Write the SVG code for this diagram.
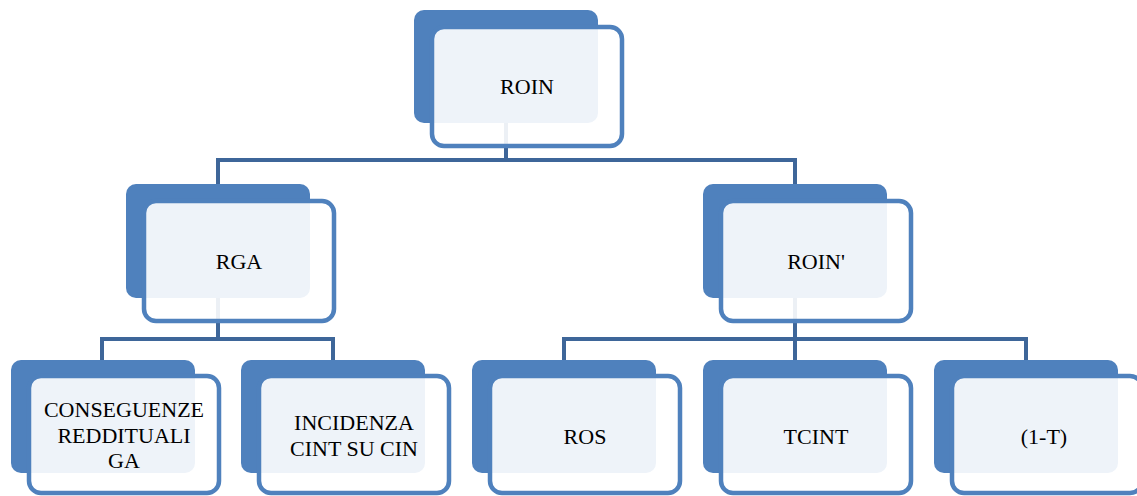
<svg xmlns="http://www.w3.org/2000/svg" width="1137" height="496" viewBox="0 0 1137 496">
<style>
.back{fill:#4F81BD}
.front{fill:#FFFFFF;fill-opacity:0.9;stroke:#4F81BD;stroke-width:4.5}
.conn{fill:none;stroke:#3E6699;stroke-width:4}
text{font-family:"Liberation Serif","Times New Roman",serif;font-size:22px;fill:#000;text-anchor:middle}
</style>
<rect width="1137" height="496" fill="#FFFFFF"/>
<g id="connectors">
<path class="conn" d="M506,123 V160 M218,184 V160 H795 V184"/>
<path class="conn" d="M218,298 V339 M102,360 V339 H333 V360"/>
<path class="conn" d="M795,298 V339 M564,360 V339 H1026 V360 M795,339 V360"/>
</g>
<g id="node-roin">
<rect class="back" x="414" y="10" width="184" height="113" rx="10"/>
<rect class="front" x="432" y="27" width="190" height="119" rx="12"/>
<text x="527" y="94">ROIN</text>
</g>
<g id="node-rga">
<rect class="back" x="126" y="184" width="184" height="114" rx="10"/>
<rect class="front" x="144" y="201" width="190" height="120" rx="12"/>
<text x="239" y="269">RGA</text>
</g>
<g id="node-roin2">
<rect class="back" x="703" y="184" width="184" height="114" rx="10"/>
<rect class="front" x="721" y="201" width="190" height="120" rx="12"/>
<text x="816" y="269">ROIN'</text>
</g>
<g id="node-conseguenze">
<rect class="back" x="11" y="360" width="184" height="113" rx="10"/>
<rect class="front" x="29" y="376" width="190" height="117" rx="12"/>
<text x="124" y="417">CONSEGUENZE</text>
<text x="124" y="443">REDDITUALI</text>
<text x="124" y="468">GA</text>
</g>
<g id="node-incidenza">
<rect class="back" x="241" y="360" width="184" height="113" rx="10"/>
<rect class="front" x="259" y="376" width="190" height="117" rx="12"/>
<text x="354" y="430">INCIDENZA</text>
<text x="354" y="456">CINT SU CIN</text>
</g>
<g id="node-ros">
<rect class="back" x="472" y="360" width="184" height="113" rx="10"/>
<rect class="front" x="490" y="376" width="190" height="117" rx="12"/>
<text x="585" y="444">ROS</text>
</g>
<g id="node-tcint">
<rect class="back" x="703" y="360" width="184" height="113" rx="10"/>
<rect class="front" x="721" y="376" width="190" height="117" rx="12"/>
<text x="816" y="444">TCINT</text>
</g>
<g id="node-1t">
<rect class="back" x="934" y="360" width="184" height="113" rx="10"/>
<rect class="front" x="952" y="376" width="190" height="117" rx="12"/>
<text x="1044" y="444">(1-T)</text>
</g>
</svg>
